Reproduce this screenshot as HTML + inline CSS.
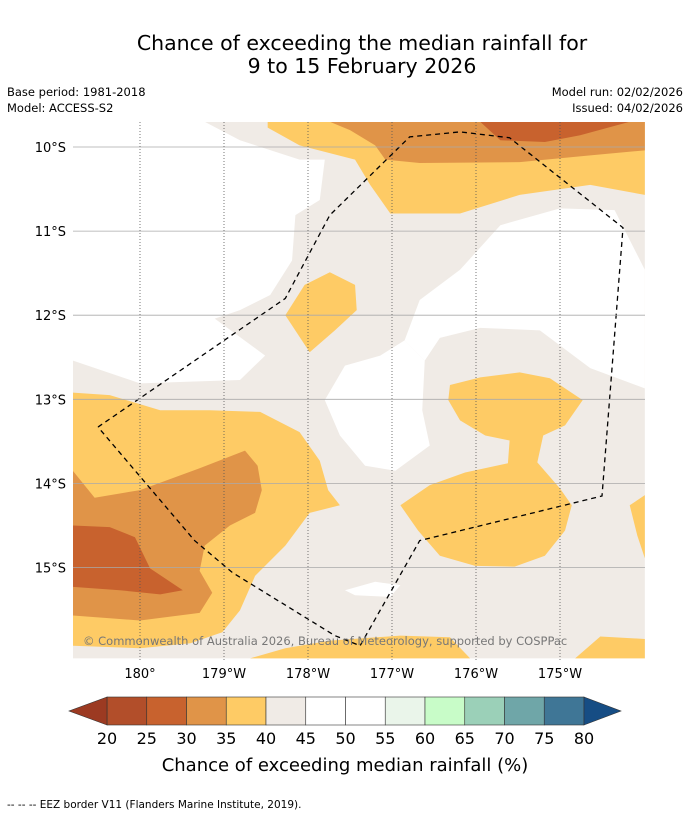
<!DOCTYPE html>
<html><head><meta charset="utf-8"><style>
body{margin:0;background:#fff;width:690px;height:816px;overflow:hidden;font-family:"DejaVu Sans","Liberation Sans",sans-serif}
</style></head><body>
<svg id="svg" width="690" height="816" xmlns="http://www.w3.org/2000/svg" font-family="DejaVu Sans, Liberation Sans, sans-serif">
<text x="362" y="50" font-size="20.5" text-anchor="middle">Chance of exceeding the median rainfall for</text>
<text x="362" y="73" font-size="20.5" text-anchor="middle">9 to 15 February 2026</text>
<text x="7" y="96" font-size="11.5">Base period: 1981-2018</text>
<text x="7" y="112" font-size="11.5">Model: ACCESS-S2</text>
<text x="683" y="96" font-size="11.5" text-anchor="end">Model run: 02/02/2026</text>
<text x="683" y="112" font-size="11.5" text-anchor="end">Issued: 04/02/2026</text>
<defs><clipPath id="mc"><rect x="73" y="122" width="572" height="538"/></clipPath></defs>
<g id="map" clip-path="url(#mc)"></g>
<g id="axes"></g>
<text x="83" y="645" font-size="11.5" fill="#777">© Commonwealth of Australia 2026, Bureau of Meteorology, supported by COSPPac</text>
<g id="cbar"></g>
<text x="345" y="771" font-size="18" text-anchor="middle">Chance of exceeding median rainfall (%)</text>
<text x="7" y="808" font-size="10.5">--  --  -- EEZ border V11 (Flanders Marine Institute, 2019).</text>
</svg>
<script>
// Longitude in degrees east of 180°, latitude in degrees south
const lonTicks=[0,1,2,3,4,5];
const lonLabels=["180°","179°W","178°W","177°W","176°W","175°W"];
const latTicks=[10,11,12,13,14,15];
const latLabels=["10°S","11°S","12°S","13°S","14°S","15°S"];
const levels=[20,25,30,35,40,45,50,55,60,65,70,75,80];
const levelColors=["#b24e2a","#c8622e","#e09448","#fecb65","#f0ebe6","#ffffff","#ffffff","#eaf5ea","#c8fcc8","#9bd0b8","#6fa6a8","#3f7696"];
const underColor="#9c3a22", overColor="#164d84";
const bgValue=42;
const white1=[[-0.8,9.7],[0.77,9.7],[1.19,9.92],[1.9,10.15],[2.2,10.15],[2.14,10.63],[1.85,10.81],[1.81,11.35],[1.55,11.76],[1.19,11.94],[0.89,12.04],[1.49,12.48],[1.19,12.77],[0,12.81],[-0.8,12.54]];
const white2=[[3.33,11.82],[3.81,11.46],[4.29,10.93],[5.0,10.73],[5.65,10.75],[6.01,11.46],[6.01,12.87],[5.36,12.63],[4.76,12.18],[4.05,12.15],[3.57,12.27],[3.39,12.54],[3.15,12.3]];
const white3=[[2.2,13.01],[2.44,12.6],[2.86,12.48],[3.15,12.3],[3.39,12.54],[3.36,13.13],[3.45,13.55],[3.04,13.85],[2.68,13.79],[2.38,13.43]];
const white4=[[2.44,15.27],[2.8,15.17],[3.1,15.21],[2.98,15.35],[2.56,15.33]];
const yellowTop=[[1.52,9.7],[6.01,9.7],[6.01,10.57],[5.36,10.45],[4.52,10.57],[3.81,10.79],[2.98,10.79],[2.74,10.45],[2.56,10.15],[1.9,9.98],[1.52,9.77]];
const orangeTop=[[2.26,9.7],[6.01,9.7],[6.01,10.04],[5.36,10.1],[4.52,10.18],[3.33,10.19],[2.92,10.15],[2.8,9.98],[2.5,9.8]];
const darkTop=[[4.05,9.7],[5.83,9.7],[5.24,9.86],[4.82,9.94],[4.29,9.92]];
const yellowBlob=[[1.73,12.0],[1.96,11.64],[2.26,11.49],[2.56,11.64],[2.58,11.94],[2.32,12.18],[2.02,12.44]];
const yellowLeft=[[-0.8,12.92],[-0.36,12.95],[0.24,13.13],[0.83,13.13],[1.43,13.15],[1.9,13.39],[2.14,13.73],[2.24,14.08],[2.38,14.26],[2.02,14.35],[1.73,14.74],[1.37,15.1],[1.19,15.51],[0.98,15.77],[0.6,15.9],[0,15.96],[-0.8,15.93]];
const orangeLeft=[[-0.8,13.85],[-0.54,14.17],[0,14.08],[0.71,13.82],[1.25,13.61],[1.4,13.79],[1.45,14.08],[1.37,14.35],[1.07,14.5],[0.77,14.74],[0.71,15.04],[0.86,15.3],[0.71,15.54],[0,15.63],[-0.8,15.57]];
const darkLeft=[[-0.8,14.5],[-0.36,14.52],[-0.06,14.64],[0.12,15.01],[0.51,15.27],[0.24,15.32],[-0.24,15.27],[-0.8,15.23]];
const yellowRight=[[3.69,12.83],[4.05,12.74],[4.52,12.68],[4.88,12.75],[5.27,13.01],[5.06,13.31],[4.8,13.43],[4.73,13.75],[5.0,14.06],[5.14,14.26],[5.06,14.56],[4.82,14.86],[4.46,14.99],[3.99,14.98],[3.57,14.86],[3.31,14.56],[3.1,14.26],[3.45,14.02],[3.87,13.87],[4.38,13.76],[4.4,13.49],[4.11,13.43],[3.81,13.25],[3.67,13.01]];
const yellowEdge=[[5.83,14.26],[6.01,14.14],[6.01,14.89],[5.92,14.62]];
const yellowBottom=[[1.31,16.08],[1.73,15.96],[2.26,15.87],[3.1,15.81],[3.69,15.83],[3.93,16.08]];
const yellowBR=[[5.18,16.08],[5.48,15.82],[6.01,15.85],[6.01,16.08]];
const eez=[[-0.5,13.33],[1.73,11.8],[2.26,10.81],[3.21,9.88],[3.81,9.82],[4.4,9.89],[5.75,10.96],[5.5,14.15],[3.33,14.68],[2.62,15.93],[2.32,15.81],[1.1,15.06],[0.65,14.68],[-0.5,13.33]];
const regions=[[white1,47],[white2,47],[white3,47],[white4,47],[yellowTop,37],[orangeTop,32],[darkTop,27],[yellowBlob,37],[yellowLeft,37],[orangeLeft,32],[darkLeft,27],[yellowRight,37],[yellowEdge,37],[yellowBottom,37],[yellowBR,37]];

const X=d=>140+84*d, Y=l=>147+84.1*(l-10);
const NS="http://www.w3.org/2000/svg";
function mk(t,a,p){const e=document.createElementNS(NS,t);for(const k in a)e.setAttribute(k,a[k]);p.appendChild(e);return e;}
function colorOf(v){for(let i=0;i<levels.length-1;i++){if(v>=levels[i]&&v<levels[i+1])return levelColors[i];}return v<levels[0]?underColor:overColor;}
const map=document.getElementById('map');
const bg=mk('rect',{x:X(-0.8),y:Y(9.7),width:X(6.01)-X(-0.8),height:Y(16.08)-Y(9.7),fill:colorOf(bgValue)},map);


regions.forEach(([pts,v])=>{
  const p=mk('polygon',{points:pts.map(q=>X(q[0])+','+Y(q[1])).join(' '),fill:colorOf(v)},map);
  
  
});
const axes=document.getElementById('axes');
latTicks.forEach((l,i)=>{
  const ln=mk('line',{x1:73,x2:645,y1:Y(l),y2:Y(l),stroke:'#aaa','stroke-width':0.8},axes);
  
  
  const t=mk('text',{x:66,y:Y(l)+5,'font-size':13,'text-anchor':'end'},axes);t.textContent=latLabels[i];
  
  
});
lonTicks.forEach((d,i)=>{
  const ln=mk('line',{x1:X(d),x2:X(d),y1:122,y2:660,stroke:'#555','stroke-width':0.8,'stroke-dasharray':'1,2'},axes);
  
  
  const t=mk('text',{x:X(d),y:678,'font-size':13,'text-anchor':'middle'},axes);t.textContent=lonLabels[i];
  
  
});
const e=mk('polyline',{points:eez.map(q=>X(q[0])+','+Y(q[1])).join(' '),fill:'none',stroke:'#000','stroke-width':1.3,'stroke-dasharray':'5,4'},map);


// colorbar
const cb=document.getElementById('cbar');
const cx0=107,cx1=584,cy=697,ch=28,bw=(cx1-cx0)/levelColors.length;
levelColors.forEach((c,i)=>{
  const r=mk('rect',{x:cx0+i*bw,y:cy,width:bw,height:ch,fill:c,stroke:'#333','stroke-width':0.6},cb);
  
  
});
const lt=mk('polygon',{points:`${cx0},${cy} ${69},${cy+ch/2} ${cx0},${cy+ch}`,fill:underColor,stroke:'#333','stroke-width':0.6},cb);


const rt=mk('polygon',{points:`${cx1},${cy} ${621},${cy+ch/2} ${cx1},${cy+ch}`,fill:overColor,stroke:'#333','stroke-width':0.6},cb);


levels.forEach((v,i)=>{
  const t=mk('text',{x:cx0+i*bw,y:744,'font-size':16,'text-anchor':'middle'},cb);t.textContent=v;
  
  
});
</script>
</body></html>
